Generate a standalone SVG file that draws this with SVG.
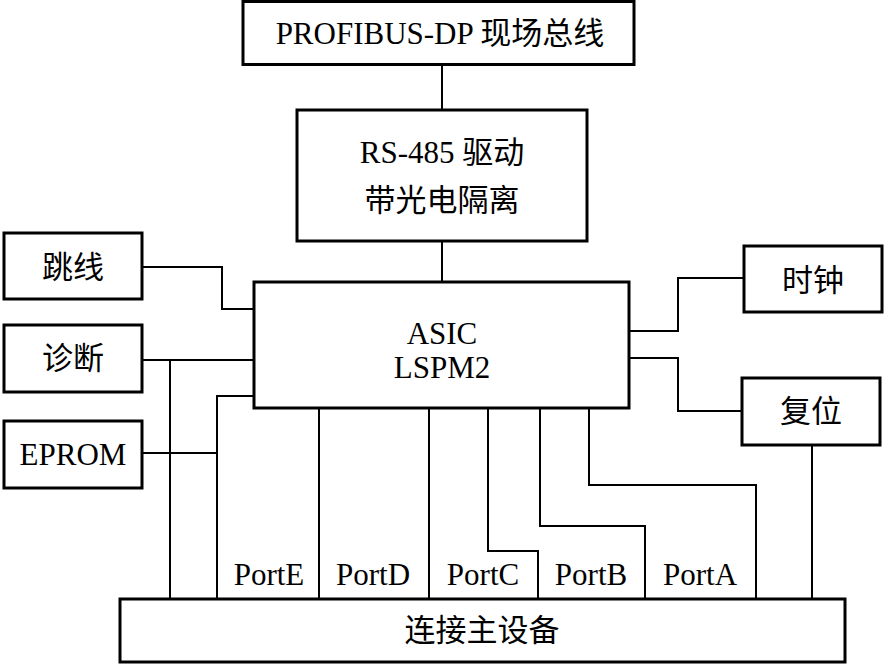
<svg xmlns="http://www.w3.org/2000/svg" width="885" height="665" viewBox="0 0 885 665">
<style>
.box{fill:#fff;stroke:#000;stroke-width:3}
.wire{fill:none;stroke:#000;stroke-width:2}
text{font-family:"Liberation Serif","Noto Sans CJK SC",serif;font-size:31px;fill:#000;text-anchor:middle}
</style>
<rect width="885" height="665" fill="#fff"/>
<g id="connectors">
<path class="wire" d="M442,65 V110"/>
<path class="wire" d="M442,241 V281"/>
<path class="wire" d="M142,267 H222 V309 H254"/>
<path class="wire" d="M142,360 H254"/>
<path class="wire" d="M170,360 V599"/>
<path class="wire" d="M254,396 H217 V599"/>
<path class="wire" d="M142,453 H217"/>
<path class="wire" d="M319,408 V599"/>
<path class="wire" d="M429,408 V599"/>
<path class="wire" d="M488,408 V551 H538 V599"/>
<path class="wire" d="M540,408 V526 H645 V599"/>
<path class="wire" d="M589,408 V485 H756 V599"/>
<path class="wire" d="M812,445 V599"/>
<path class="wire" d="M629,331 H678 V278 H744"/>
<path class="wire" d="M629,358 H678 V411 H742"/>
</g>
<g id="profibus"><rect class="box" x="243" y="1.5" width="391" height="63"/><text x="440" y="44">PROFIBUS-DP 现场总线</text></g>
<g id="rs485"><rect class="box" x="297" y="110" width="290" height="131"/><text x="442" y="163">RS-485 驱动</text><text x="442" y="211">带光电隔离</text></g>
<g id="asic"><rect class="box" x="254" y="282" width="375" height="126"/><text x="442" y="344">ASIC</text><text x="442" y="378">LSPM2</text></g>
<g id="jumper"><rect class="box" x="4" y="233" width="138" height="66"/><text x="73" y="278">跳线</text></g>
<g id="diag"><rect class="box" x="4" y="325" width="138" height="67"/><text x="73" y="369">诊断</text></g>
<g id="eprom"><rect class="box" x="4" y="421" width="138" height="67"/><text x="73" y="465">EPROM</text></g>
<g id="clock"><rect class="box" x="744" y="246" width="138" height="66"/><text x="813" y="291">时钟</text></g>
<g id="reset"><rect class="box" x="742" y="378" width="138" height="67"/><text x="811" y="422">复位</text></g>
<g id="host"><rect class="box" x="120" y="599" width="725" height="63"/><text x="482" y="641">连接主设备</text></g>
<g id="ports">
<text x="269" y="585">PortE</text>
<text x="373" y="585">PortD</text>
<text x="483" y="585">PortC</text>
<text x="591" y="585">PortB</text>
<text x="700" y="585">PortA</text>
</g>
</svg>
